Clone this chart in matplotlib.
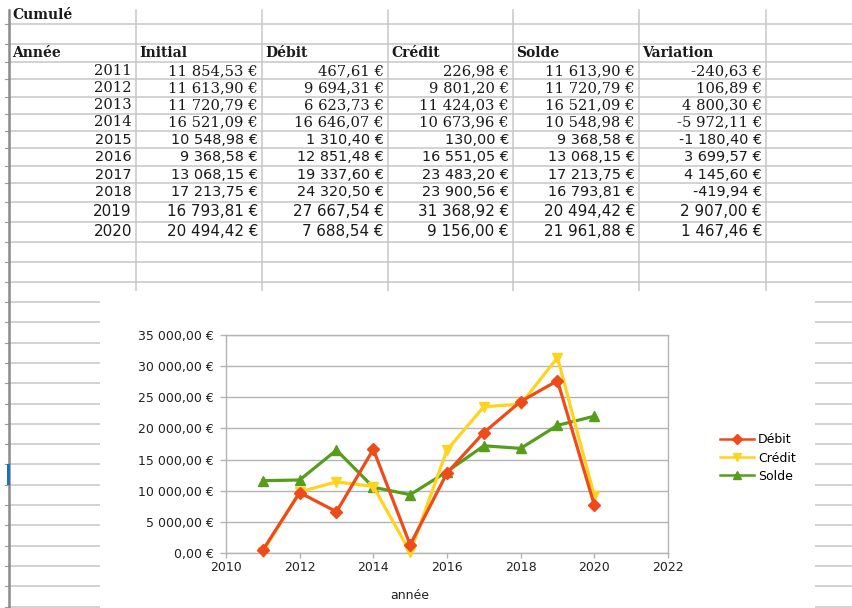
import matplotlib
matplotlib.use("Agg")
import matplotlib.pyplot as plt
from matplotlib.patches import Rectangle
from matplotlib.lines import Line2D
from matplotlib.ticker import FuncFormatter

# ---------------- data ----------------
table_title = "Cumulé"
table_headers = ["Année", "Initial", "Débit", "Crédit", "Solde", "Variation"]
years = [2011, 2012, 2013, 2014, 2015, 2016, 2017, 2018, 2019, 2020]
initial = [11854.53, 11613.90, 11720.79, 16521.09, 10548.98, 9368.58, 13068.15, 17213.75, 16793.81, 20494.42]
debit = [467.61, 9694.31, 6623.73, 16646.07, 1310.40, 12851.48, 19337.60, 24320.50, 27667.54, 7688.54]
credit = [226.98, 9801.20, 11424.03, 10673.96, 130.00, 16551.05, 23483.20, 23900.56, 31368.92, 9156.00]
solde = [11613.90, 11720.79, 16521.09, 10548.98, 9368.58, 13068.15, 17213.75, 16793.81, 20494.42, 21961.88]
variation = [-240.63, 106.89, 4800.30, -5972.11, -1180.40, 3699.57, 4145.60, -419.94, 2907.00, 1467.46]
series_names = ["Débit", "Crédit", "Solde"]
x_ticks = [2010, 2012, 2014, 2016, 2018, 2020, 2022]
y_ticks = [0, 5000, 10000, 15000, 20000, 25000, 30000, 35000]
x_label = "année"


def eur(v):
    s = f"{abs(v):,.2f}".replace(",", " ").replace(".", ",")
    return ("-" if v < 0 else "") + s + " €"


W, H = 853, 608
fig = plt.figure(figsize=(W / 100, H / 100), dpi=100)
fig.patch.set_facecolor("white")

# ---------------- spreadsheet background ----------------
bg = fig.add_axes([0, 0, 1, 1])
bg.set_xlim(0, W)
bg.set_ylim(H, 0)
bg.axis("off")

grid_c = "#c6c6c6"
col_x = [9, 136, 262, 388, 513, 639, 766]
row_y = [24, 44, 62, 79, 97, 114, 131, 148, 166, 183, 202, 222, 242, 262, 282]
low_rows = [302 + i * 20.3 for i in range(16)]

for y in row_y:
    bg.plot([9, W], [y, y], color=grid_c, lw=1.1, solid_capstyle="butt")
    bg.plot([5, 9], [y, y], color="#999999", lw=0.8)
for y in low_rows:
    bg.plot([9, 100], [y, y], color=grid_c, lw=1.1)
    bg.plot([815, W], [y, y], color=grid_c, lw=1.1)
    bg.plot([5, 9], [y, y], color="#999999", lw=0.8)
for x in col_x[1:]:
    bg.plot([x, x], [10, 295], color=grid_c, lw=1.1)
bg.plot([9, 9], [10, H], color="#8a8a8a", lw=1.8)
bg.add_patch(Rectangle((7, 464), 3, 21, facecolor="#1f6fc0", edgecolor="none", zorder=5))

txt_c = "#1a1a1a"
bg.text(12, 15, table_title, fontsize=10, fontweight="bold", family="DejaVu Serif",
        va="center", ha="left", color=txt_c)
for i, h in enumerate(table_headers):
    bg.text(col_x[i] + 3, 53, h, fontsize=10, fontweight="bold", family="DejaVu Serif",
            va="center", ha="left", color=txt_c)

row_centers = [71, 88, 105, 122, 140, 157, 175, 192, 212, 232]
for r, yr in enumerate(years):
    if r < 4:
        fam, fs = "DejaVu Serif", 10.6
    elif r < 8:
        fam, fs = "DejaVu Sans", 10.4
    else:
        fam, fs = "DejaVu Sans", 10.9
    vals = [str(yr), eur(initial[r]), eur(debit[r]), eur(credit[r]), eur(solde[r]), eur(variation[r])]
    for c, v in enumerate(vals):
        bg.text(col_x[c + 1] - 4, row_centers[r], v, fontsize=fs, family=fam,
                va="center", ha="right", color=txt_c)

# white chart area
bg.add_patch(Rectangle((100, 291), 715, H - 291, facecolor="white", edgecolor="none", zorder=10))

# ---------------- chart ----------------
L, R, T, B = 226, 668, 335, 553
ax = fig.add_axes([L / W, 1 - B / H, (R - L) / W, (B - T) / H])
ax.set_facecolor("white")
ax.set_xlim(x_ticks[0], x_ticks[-1])
ax.set_ylim(y_ticks[0], y_ticks[-1])
ax.set_xticks(x_ticks)
ax.set_yticks(y_ticks)
ax.yaxis.set_major_formatter(FuncFormatter(lambda v, p: eur(v)))
ax.grid(axis="y", color="#b3b3b3", lw=1.0)
ax.set_axisbelow(True)
for s in ax.spines.values():
    s.set_color("#b3b3b3")
    s.set_linewidth(1.0)
ax.tick_params(axis="y", length=4.3, width=1.0, color="#b3b3b3", pad=4.5,
               labelsize=9, labelcolor="#222222")
ax.tick_params(axis="x", length=3.6, width=1.0, color="#b3b3b3", pad=2,
               labelsize=9, labelcolor="#222222")

colors = {"Débit": "#ee4a1a", "Crédit": "#ffd320", "Solde": "#579d1c"}
markers = {"Débit": "D", "Crédit": "v", "Solde": "^"}
msizes = {"Débit": 6.0, "Crédit": 7.8, "Solde": 7.8}
data = {"Débit": debit, "Crédit": credit, "Solde": solde}
zorders = {"Débit": 5, "Crédit": 4, "Solde": 3}

handles = []
for name in series_names:
    ln, = ax.plot(years, data[name], color=colors[name], lw=2.3, marker=markers[name],
                  ms=msizes[name], mec=colors[name], mfc=colors[name], zorder=zorders[name],
                  clip_on=False)
    handles.append(Line2D([], [], color=colors[name], lw=1.8, marker=markers[name],
                          ms=msizes[name] * 0.8, mec=colors[name], mfc=colors[name]))

ax.set_xlabel(x_label, fontsize=9, color="#222222")
ax.xaxis.set_label_coords(0.416, -0.165)

ax.legend(handles, series_names, loc="center left",
          bbox_to_anchor=(720 / W, 1 - 458 / H), bbox_transform=fig.transFigure,
          frameon=False, fontsize=9, handlelength=2.7, handletextpad=0.35,
          labelspacing=0.42, borderpad=0, borderaxespad=0, numpoints=1)

fig.savefig("out.png", dpi=100, facecolor="white")
